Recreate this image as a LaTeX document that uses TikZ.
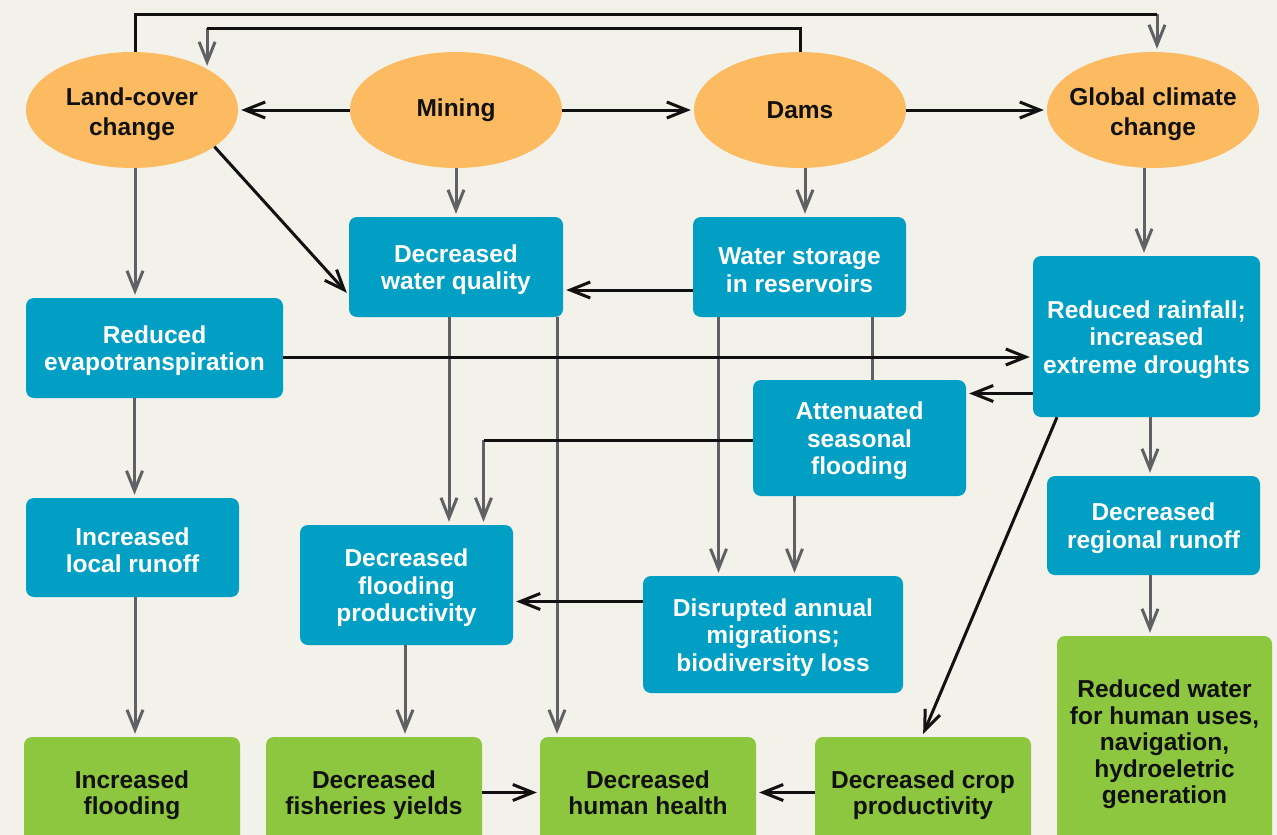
\documentclass[tikz,border=0pt]{standalone}
\usepackage{fontspec}
\setmainfont{Liberation Sans}
\usetikzlibrary{shapes.geometric,arrows.meta,calc}
\definecolor{bg}{HTML}{F2F1EA}
\definecolor{orng}{HTML}{FDBB61}
\definecolor{blu}{HTML}{009FC3}
\definecolor{grn}{HTML}{8DC63F}
\definecolor{gline}{HTML}{606164}
\definecolor{ink}{HTML}{111111}
\newcommand\eup{\rule{0pt}{26.5pt}}
\newcommand\bup{\rule{0pt}{23.5pt}}
\begin{document}
\begin{tikzpicture}[x=1pt,y=-1pt,
  every node/.style={align=center, inner sep=0pt},
  cause/.style={ellipse, fill=orng, text=ink, inner xsep=-15pt, minimum width=212pt, minimum height=116pt, font=\fontsize{24.5}{30}\selectfont\bfseries},
  eff/.style={rectangle, rounded corners=8pt, fill=blu, text=white, font=\fontsize{24.5}{27.5}\selectfont\bfseries},
  outc/.style={rectangle, rounded corners=8pt, fill=grn, text=ink, text depth=0pt, font=\fontsize{24.5}{26.5}\selectfont\bfseries},
  tipb/.style={-{Straight Barb[length=20pt,width=16pt]}},
  gln/.style={draw=gline, line width=3pt},
  bln/.style={draw=ink, line width=3pt},
  gar/.style={gln, tipb, shorten >=3pt},
  bar/.style={bln, tipb, shorten >=3pt},
]
\useasboundingbox (0,0) rectangle (1277,835);
\clip (0,0) rectangle (1277,835);
\fill[bg] (0,0) rectangle (1277,835);

% drivers
\node[cause] (lcc) at (132,110) {\eup Land-cover\\change};
\node[cause] (mining) at (456,110) {Mining};
\node[cause] (dams) at (800,110) {Dams};
\node[cause] (gcc) at (1153,110) {\eup Global climate\\change};

% effects
\node[eff, minimum width=214pt, minimum height=100pt] (wq) at (456,267) {\bup Decreased\\water quality};
\node[eff, minimum width=213pt, minimum height=100pt] (ws) at (799.5,267) {\bup Water storage\\in reservoirs};
\node[eff, minimum width=257pt, minimum height=100pt] (re) at (154.5,348) {\bup Reduced\\evapotranspiration};
\node[eff, minimum width=227pt, minimum height=161pt] (rr) at (1146.5,336.5) {\bup Reduced rainfall;\\increased\\extreme droughts};
\node[eff, minimum width=213pt, minimum height=116pt] (asf) at (859.5,438) {\bup Attenuated\\seasonal\\flooding};
\node[eff, minimum width=213pt, minimum height=99pt] (lr) at (132.5,547.5) {\bup Increased\\local runoff};
\node[eff, minimum width=213pt, minimum height=120pt] (fp) at (406.5,585) {\bup Decreased\\flooding\\productivity};
\node[eff, minimum width=260pt, minimum height=117pt] (dm) at (773,634.5) {\bup Disrupted annual\\migrations;\\biodiversity loss};
\node[eff, minimum width=213pt, minimum height=99pt] (rro) at (1153.5,525.5) {\bup Decreased\\regional runoff};

% outcomes
\node[outc, minimum width=216pt, minimum height=111pt] (flood) at (132,792.5) {Increased\\flooding};
\node[outc, minimum width=216pt, minimum height=111pt] (fy) at (374,792.5) {Decreased\\fisheries yields};
\node[outc, minimum width=216pt, minimum height=111pt] (hh) at (648,792.5) {Decreased\\human health};
\node[outc, minimum width=216pt, minimum height=111pt] (cp) at (923,792.5) {Decreased crop\\productivity};
\node[outc, minimum width=215pt, minimum height=212pt] (rw) at (1164.5,742) {Reduced water\\for human uses,\\navigation,\\hydroeletric\\generation};

% helper coordinates
\path ($(lcc.north)+(3,0)$) coordinate (lccTop);
\coordinate (loopA) at (1157,14);
\coordinate (loopB) at (lcc.north east |- 0,28);
\path ($(dams.south)+(5,0)$) coordinate (damsOut);
\path ($(gcc.south)+(-9,0)$) coordinate (gccOut);
\path ($(lcc.south)+(3,0)$) coordinate (lccOut);
\path ($(wq.west)+(0,28)$) coordinate (wqIn);
\path ($(ws.west)+(0,23)$) coordinate (wsOut);
\path ($(re.east)+(0,9)$) coordinate (reOut);
\path ($(rr.west)+(0,57)$) coordinate (rrOut);
\path ($(ws.south)+(73,0)$) coordinate (wsOutA);
\path ($(ws.south)+(-81,0)$) coordinate (wsOutB);
\path ($(asf.south)+(-65,0)$) coordinate (asfOut);
\path ($(asf.west)+(0,2)$) coordinate (asfOutW);
\path ($(fp.north)+(77,0)$) coordinate (fpIn);
\path ($(wq.south)+(-7,0)$) coordinate (wqOutA);
\path ($(wq.south)+(101,0)$) coordinate (wqOutB);
\path ($(dm.west)+(0,-33)$) coordinate (dmOut);
\path ($(re.south)+(-20,0)$) coordinate (reDown);
\path ($(lr.south)+(2.5,0)$) coordinate (lrOut);
\path ($(fp.south)+(-1.5,0)$) coordinate (fpOut);
\path ($(rr.south)+(-89.5,0)$) coordinate (rrDiag);
\path ($(rr.south)+(3.5,0)$) coordinate (rrOut2);
\path ($(rro.south)+(-3.5,0)$) coordinate (rroOut);
\path ($(cp.north)+(-1,0)$) coordinate (cpIn);

% gray connectors
\draw[gar] (loopA) -- (loopA |- gcc.north);
\draw[gar] (loopB) -- (lcc.north east);
\draw[gar] (mining.south) -- (wq.north);
\draw[gar] (damsOut) -- (damsOut |- ws.north);
\draw[gar] (gccOut) -- (gccOut |- rr.north);
\draw[gar] (lccOut) -- (lccOut |- re.north);
\draw[gln] (wsOutA) -- (wsOutA |- asf.north);
\draw[gar] (wsOutB) -- (wsOutB |- dm.north);
\draw[gar] (asfOut) -- (asfOut |- dm.north);
\draw[gar] (asfOutW -| fpIn) -- (fpIn);
\draw[gar] (wqOutA) -- (wqOutA |- fp.north);
\draw[gar] (wqOutB) -- (wqOutB |- hh.north);
\draw[gar] (reDown) -- (reDown |- lr.north);
\draw[gar] (lrOut) -- (lrOut |- flood.north);
\draw[gar] (fpOut) -- (fpOut |- fy.north);
\draw[gar] (rrOut2) -- (rrOut2 |- rro.north);
\draw[gar] (rroOut) -- (rroOut |- rw.north);

% black connectors
\draw[bln] (lccTop) |- (loopA);
\draw[bln] (dams.north) |- (loopB);
\draw[bar] (mining.west) -- (lcc.east);
\draw[bar] (mining.east) -- (dams.west);
\draw[bar] (dams.east) -- (gcc.west);
\draw[bar] (lcc.-24) -- (wqIn);
\draw[bar] (wsOut) -- (wsOut -| wq.east);
\draw[bar] (reOut) -- (reOut -| rr.west);
\draw[bar] (rrOut) -- (rrOut -| asf.east);
\draw[bln] (asfOutW) -- (asfOutW -| fpIn);
\draw[bar] (dmOut) -- (dmOut -| fp.east);
\draw[bar] (fy.east) -- (hh.west);
\draw[bar] (cp.west) -- (hh.east);
\draw[bar] (rrDiag) -- (cpIn);
\end{tikzpicture}
\end{document}
